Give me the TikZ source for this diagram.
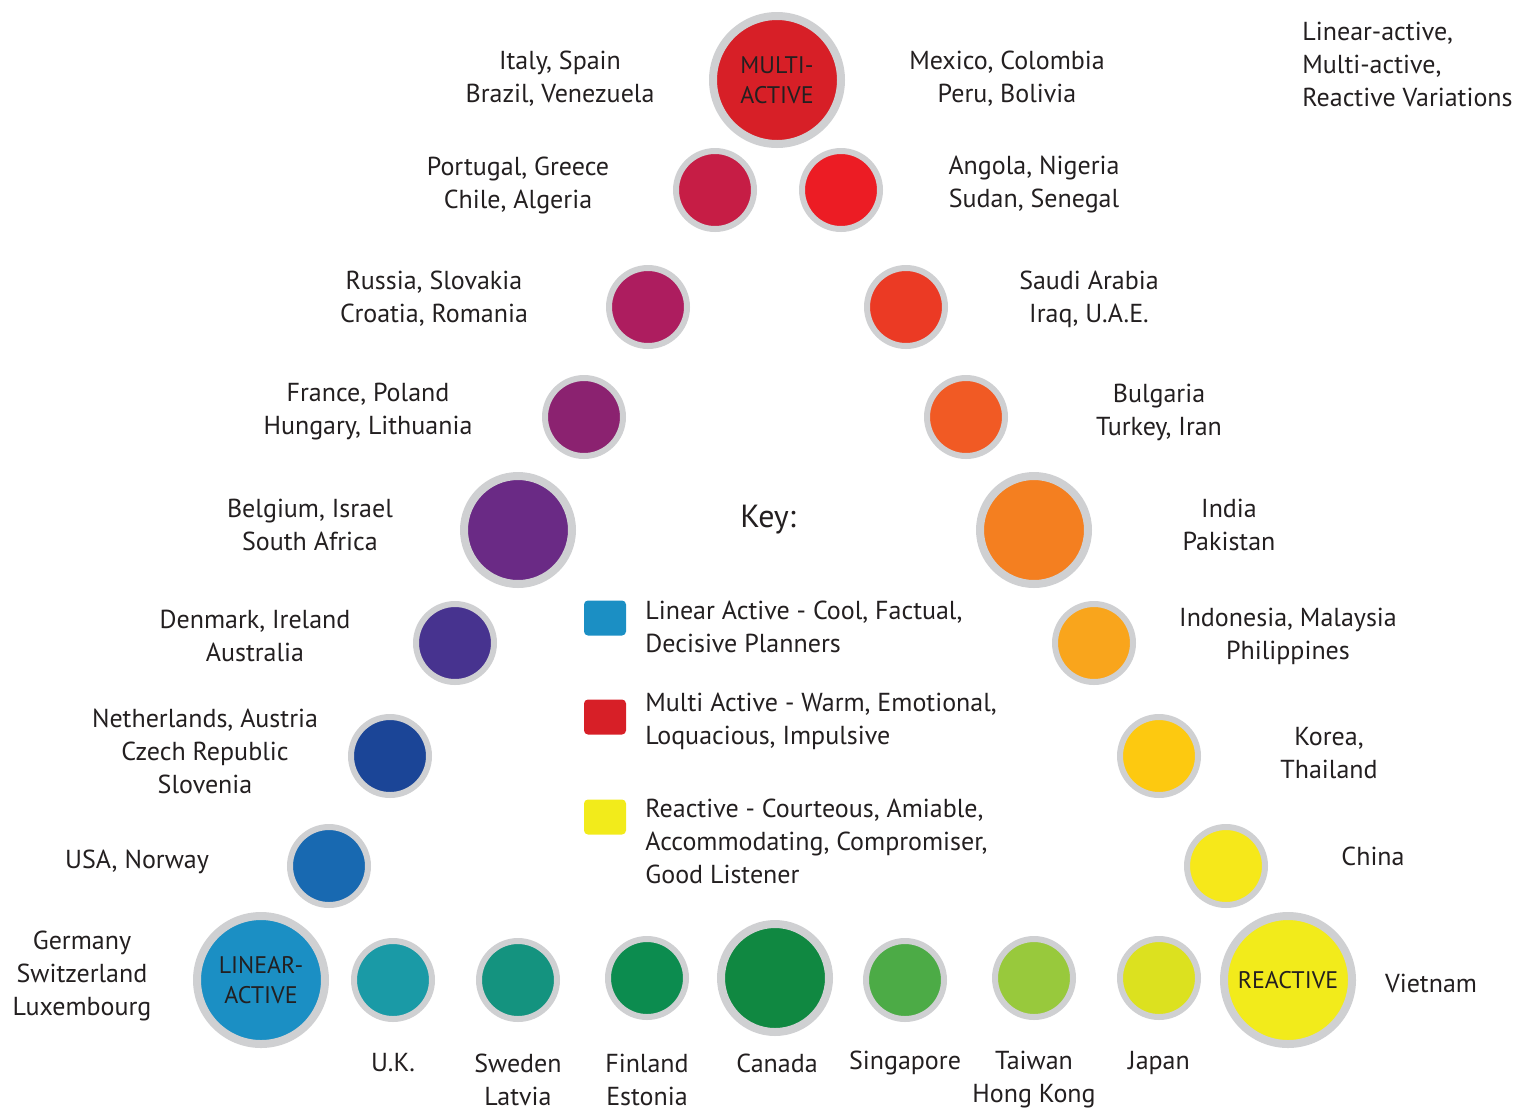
\documentclass[tikz,border=0pt]{standalone}
\usepackage{fontspec}
\setmainfont{PT Sans}
\usetikzlibrary{positioning}
\definecolor{ringgray}{HTML}{CFD0D2}
\definecolor{inkgray}{HTML}{231F20}
\definecolor{cMulti}{HTML}{D71F27}
\definecolor{cPortugal}{HTML}{C61D45}
\definecolor{cAngola}{HTML}{EC1C24}
\definecolor{cRussia}{HTML}{AD1D5F}
\definecolor{cSaudi}{HTML}{EB3A24}
\definecolor{cFrance}{HTML}{8B2270}
\definecolor{cBulgaria}{HTML}{F15A24}
\definecolor{cBelgium}{HTML}{6A2A85}
\definecolor{cIndia}{HTML}{F47F20}
\definecolor{cDenmark}{HTML}{47338F}
\definecolor{cIndonesia}{HTML}{F9A51C}
\definecolor{cNether}{HTML}{1B4597}
\definecolor{cKorea}{HTML}{FDC910}
\definecolor{cUSA}{HTML}{1869B1}
\definecolor{cChina}{HTML}{F6E81A}
\definecolor{cLinear}{HTML}{1B8FC4}
\definecolor{cUK}{HTML}{1A9AA6}
\definecolor{cSweden}{HTML}{14937F}
\definecolor{cFinland}{HTML}{0C8C4F}
\definecolor{cCanada}{HTML}{108841}
\definecolor{cSingapore}{HTML}{4CAB46}
\definecolor{cTaiwan}{HTML}{98C93C}
\definecolor{cJapan}{HTML}{DCE11F}
\definecolor{cReactive}{HTML}{F2EB1B}

\begin{document}
\begin{tikzpicture}[x=0.5pt,y=-0.5pt,
  every node/.style={inner sep=0pt,text=inkgray},
  dot/.style={circle,draw=ringgray,line width=3pt,minimum size=39pt},
  middot/.style={circle,draw=ringgray,line width=4pt,minimum size=54pt},
  bigdot/.style={circle,draw=ringgray,line width=4pt,minimum size=64pt,
    align=center,font=\fontsize{12}{15}\selectfont},
  country/.style={align=center,font=\fontsize{13}{16.5}\selectfont},
  keytext/.style={anchor=west,align=left,font=\fontsize{13}{16.5}\selectfont},
  keybox/.style={rounded corners=2pt,minimum width=21pt,minimum height=17.5pt}]
\useasboundingbox (0,0) rectangle (1531,1110);

% the three poles
\node[bigdot,fill=cMulti] (multi) at (777,80) {MULTI-\\ACTIVE};
\node[bigdot,fill=cLinear] (linear) at (261,980) {LINEAR-\\ACTIVE};
\node[bigdot,fill=cReactive] (reactive) at (1288,980) {REACTIVE};

% linear - multi side
\node[dot,fill=cPortugal] (portugal) at (715,190) {};
\node[dot,fill=cRussia] (russia) at (648,307) {};
\node[dot,fill=cFrance] (france) at (584,417) {};
\node[middot,fill=cBelgium] (belgium) at (518,530) {};
\node[dot,fill=cDenmark] (denmark) at (455,643) {};
\node[dot,fill=cNether] (netherlands) at (390,756) {};
\node[dot,fill=cUSA] (usa) at (329,866) {};

% multi - reactive side
\node[dot,fill=cAngola] (angola) at (841,190) {};
\node[dot,fill=cSaudi] (saudi) at (906,307) {};
\node[dot,fill=cBulgaria] (bulgaria) at (966,417) {};
\node[middot,fill=cIndia] (india) at (1034,530) {};
\node[dot,fill=cIndonesia] (indonesia) at (1094,643) {};
\node[dot,fill=cKorea] (korea) at (1159,756) {};
\node[dot,fill=cChina] (china) at (1226,866) {};

% linear - reactive side
\node[dot,fill=cUK] (uk) at (393,980) {};
\node[dot,fill=cSweden] (sweden) at (518,980) {};
\node[dot,fill=cFinland] (finland) at (647,978) {};
\node[middot,fill=cCanada] (canada) at (775,978) {};
\node[dot,fill=cSingapore] (singapore) at (905,980) {};
\node[dot,fill=cTaiwan] (taiwan) at (1034,978) {};
\node[dot,fill=cJapan] (japan) at (1159,978) {};

% country labels
\node[country] (t-italy) at (560,79) {Italy, Spain\\Brazil, Venezuela};
\node[country] (t-mexico) at (1007,79) {Mexico, Colombia\\Peru, Bolivia};
\node[country] (t-portugal) at (518,185) {Portugal, Greece\\Chile, Algeria};
\node[country] (t-angola) at (1034,185) {Angola, Nigeria\\Sudan, Senegal};
\node[country] (t-russia) at (434,299) {Russia, Slovakia\\Croatia, Romania};
\node[country] (t-saudi) at (1089,299) {Saudi Arabia\\Iraq, U.A.E.};
\node[country] (t-france) at (368,412) {France, Poland\\Hungary, Lithuania};
\node[country] (t-bulgaria) at (1159,412) {Bulgaria\\Turkey, Iran};
\node[country] (t-belgium) at (310,525) {Belgium, Israel\\South Africa};
\node[country] (t-india) at (1229,525) {India\\Pakistan};
\node[country] (t-denmark) at (255,636) {Denmark, Ireland\\Australia};
\node[country] (t-indonesia) at (1288,636) {Indonesia, Malaysia\\Philippines};
\node[country] (t-netherlands) at (205,751) {Netherlands, Austria\\Czech Republic\\Slovenia};
\node[country] (t-korea) at (1329,753) {Korea,\\Thailand};
\node[country] (t-usa) at (137,862) {USA, Norway};
\node[country] (t-china) at (1373,856) {China};
\node[country] (t-germany) at (82,976) {Germany\\Switzerland\\Luxembourg};
\node[country] (t-vietnam) at (1431,983) {Vietnam};
\node[country] (t-uk) at (393,1063) {U.K.};
\node[country] (t-sweden) at (518,1080) {Sweden\\Latvia};
\node[country] (t-finland) at (647,1080) {Finland\\Estonia};
\node[country] (t-canada) at (777,1063) {Canada};
\node[country] (t-singapore) at (905,1063) {Singapore};
\node[country] (t-taiwan) at (1034,1080) {Taiwan\\Hong Kong};
\node[country] (t-japan) at (1159,1063) {Japan};

\node[keytext] (variations) at (1302,64) {Linear-active,\\Multi-active,\\Reactive Variations};

% key
\node[country,font=\fontsize{16}{18}\selectfont] (key) at (768,520) {Key:};
\node[keybox,fill=cLinear] (box-linear) at (605,618) {};
\node[keybox,fill=cMulti] (box-multi) at (605,717) {};
\node[keybox,fill=cReactive] (box-reactive) at (605,817) {};
\node[keytext] (k-linear) at (645,627) {Linear Active - Cool, Factual,\\Decisive Planners};
\node[keytext] (k-multi) at (645,721) {Multi Active - Warm, Emotional,\\Loquacious, Impulsive};
\node[keytext] (k-reactive) at (645,841) {Reactive - Courteous, Amiable,\\Accommodating, Compromiser,\\Good Listener};
\end{tikzpicture}
\end{document}
